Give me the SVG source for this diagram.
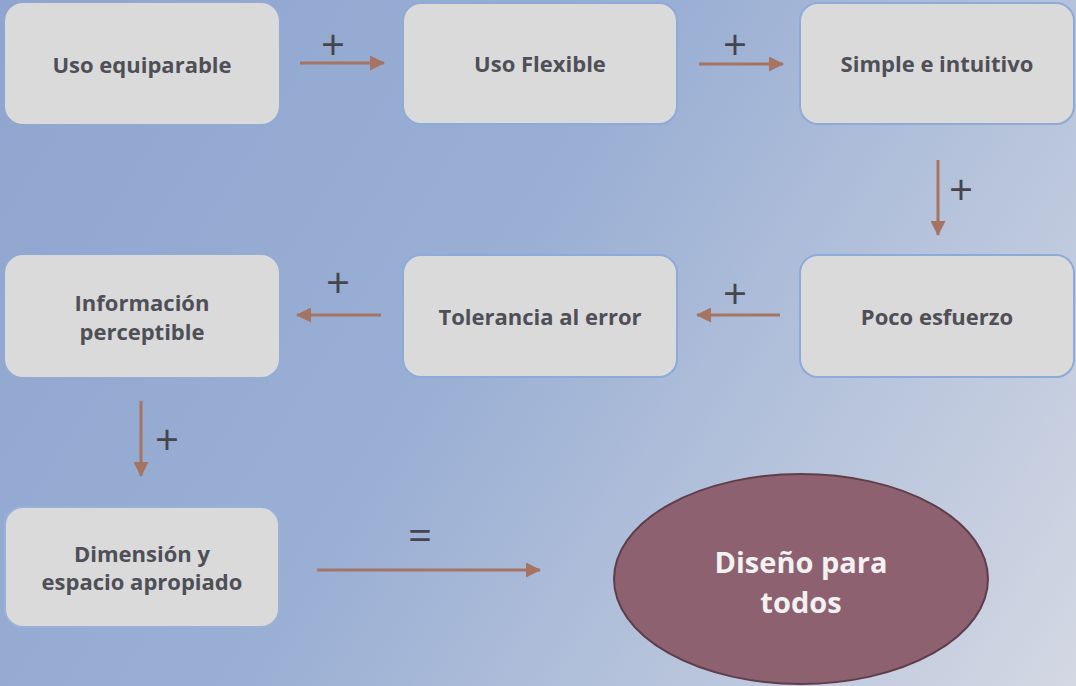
<svg xmlns="http://www.w3.org/2000/svg" width="1076" height="686" viewBox="0 0 1076 686">
<defs>
<linearGradient id="bg" x1="0" y1="0" x2="1076" y2="686" gradientUnits="userSpaceOnUse">
<stop offset="0" stop-color="#8fa5cf"/>
<stop offset="0.45" stop-color="#9aafd4"/>
<stop offset="1" stop-color="#d3d8e3"/>
</linearGradient>
<marker id="ah" markerWidth="15" markerHeight="15" refX="14" refY="7.5" orient="auto" markerUnits="userSpaceOnUse" viewBox="0 0 15 15">
<path d="M0,0 L15,7.5 L0,15 Z" fill="#a57462"/>
</marker>
<style>
.box{fill:#dadada;stroke:#8eaad8;stroke-width:2}
.lbl{font-family:"Open Sans","Noto Sans","Liberation Sans",sans-serif;font-weight:bold;font-size:22px;fill:#4f4f57;text-anchor:middle}
.conn{stroke:#a57462;stroke-width:3;fill:none}
.sign{font-family:"Open Sans","Noto Sans","Liberation Sans",sans-serif;font-size:42px;fill:#45454d;text-anchor:middle}
.big{font-family:"Open Sans","Noto Sans","Liberation Sans",sans-serif;font-weight:bold;font-size:29px;fill:#f2f2f2;text-anchor:middle}
</style>
</defs>
<rect width="1076" height="686" fill="url(#bg)"/>
<g id="connectors">
<line class="conn" x1="300" y1="63" x2="384" y2="63" marker-end="url(#ah)"/>
<line class="conn" x1="699" y1="64" x2="783" y2="64" marker-end="url(#ah)"/>
<line class="conn" x1="938" y1="160" x2="938" y2="235" marker-end="url(#ah)"/>
<line class="conn" x1="780" y1="315" x2="697" y2="315" marker-end="url(#ah)"/>
<line class="conn" x1="381" y1="315" x2="297" y2="315" marker-end="url(#ah)"/>
<line class="conn" x1="141" y1="401" x2="141" y2="476" marker-end="url(#ah)"/>
<line class="conn" x1="317" y1="570" x2="540" y2="570" marker-end="url(#ah)"/>
<text class="sign" x="333" y="60">+</text>
<text class="sign" x="735" y="60">+</text>
<text class="sign" x="961" y="205">+</text>
<text class="sign" x="735" y="309">+</text>
<text class="sign" x="338" y="298">+</text>
<text class="sign" x="167" y="455">+</text>
<text class="sign" x="420" y="550">=</text>
</g>
<g id="n1"><rect class="box" x="5" y="3" width="274" height="121" rx="18" style="stroke:none"/><text class="lbl" x="142" y="73">Uso equiparable</text></g>
<g id="n2"><rect class="box" x="403" y="3" width="274" height="121" rx="18"/><text class="lbl" x="540" y="72">Uso Flexible</text></g>
<g id="n3"><rect class="box" x="800" y="3" width="274" height="121" rx="18"/><text class="lbl" x="937" y="72">Simple e intuitivo</text></g>
<g id="n4"><rect class="box" x="800" y="255" width="274" height="122" rx="18"/><text class="lbl" x="937" y="325">Poco esfuerzo</text></g>
<g id="n5"><rect class="box" x="403" y="255" width="274" height="122" rx="18"/><text class="lbl" x="540" y="325">Tolerancia al error</text></g>
<g id="n6"><rect class="box" x="5" y="255" width="274" height="122" rx="18" style="stroke:none"/><text class="lbl" x="142" y="311">Información</text><text class="lbl" x="142" y="340">perceptible</text></g>
<g id="n7"><rect class="box" x="5" y="507" width="274" height="120" rx="18" style="stroke:#9ab0d8"/><text class="lbl" x="142" y="562">Dimensión y</text><text class="lbl" x="142" y="590">espacio apropiado</text></g>
<g id="n8"><ellipse cx="801" cy="579" rx="187" ry="105" fill="#8d6170" stroke="#5f3e4b" stroke-width="2"/><text class="big" x="801" y="573">Diseño para</text><text class="big" x="801" y="613">todos</text></g>
</svg>
